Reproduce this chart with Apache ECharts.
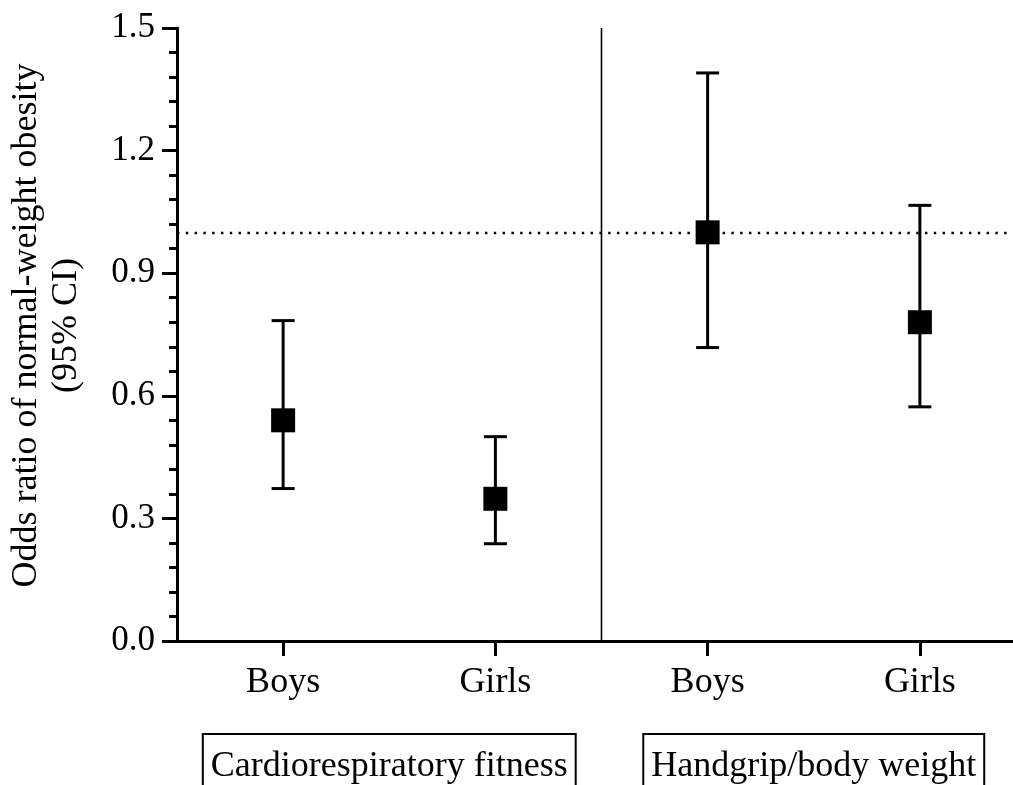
<!DOCTYPE html>
<html>
<head>
<meta charset="utf-8">
<script src="https://cdn.jsdelivr.net/npm/echarts@6/dist/echarts.min.js"></script>
<style>html,body{margin:0;padding:0;background:#fff;}#chart{width:1013px;height:785px;}</style>
</head>
<body>
<div id="chart"></div>
<script>
const categories = ['Boys', 'Girls', 'Boys', 'Girls'];
const groups = ['Cardiorespiratory fitness', 'Handgrip/body weight'];
const oddsRatio = [0.54, 0.348, 1.0, 0.78];
const ciLower = [0.373, 0.238, 0.718, 0.573];
const ciUpper = [0.784, 0.50, 1.39, 1.066];
const yTicks = [0, 0.3, 0.6, 0.9, 1.2, 1.5];
const refValue = 1.0;
const separatorAfter = [1]; // vertical divider after category index 1

const FONT = "'Liberation Serif', 'Times New Roman', serif";
const chart = echarts.init(document.getElementById('chart'));

const errData = categories.map((c, i) => [i, ciLower[i], ciUpper[i]]);
const ptData = categories.map((c, i) => [i, oddsRatio[i]]);
const sepData = separatorAfter.map(i => [i, 0]);

chart.setOption({
  animation: false,
  backgroundColor: '#fff',
  grid: { left: 177, top: 28, bottom: 144, right: -13, containLabel: false, outerBoundsMode: 'none' },
  xAxis: [{
    type: 'category',
    data: categories,
    boundaryGap: true,
    axisLine: { show: true, lineStyle: { color: '#000', width: 3 } },
    axisTick: { show: true, alignWithLabel: true, length: 15, lineStyle: { color: '#000', width: 3 } },
    axisLabel: { color: '#000', fontFamily: FONT, fontSize: 36, margin: 24, interval: 0 },
    splitLine: { show: false }
  }, {
    type: 'category',
    data: groups,
    position: 'bottom',
    offset: 0,
    axisLine: { show: false },
    axisTick: { show: false },
    splitLine: { show: false },
    axisLabel: {
      interval: 0,
      color: '#000', fontFamily: FONT, fontSize: 36, margin: 93,
      borderColor: '#000', borderWidth: 2, padding: [15, 8, 30, 8]
    }
  }],
  yAxis: {
    type: 'value',
    min: yTicks[0], max: yTicks[yTicks.length - 1], interval: 0.3,
    name: 'Odds ratio of normal-weight obesity\n(95% CI)',
    nameLocation: 'middle',
    nameGap: 90,
    nameRotate: 90,
    nameTextStyle: { color: '#000', fontFamily: FONT, fontSize: 36, lineHeight: 40, padding: [0, 0, 0, 18] },
    axisLine: { show: true, lineStyle: { color: '#000', width: 3 } },
    axisTick: { show: true, length: 15, lineStyle: { color: '#000', width: 3 } },
    minorTick: { show: true, splitNumber: 5, length: 8, lineStyle: { color: '#000', width: 3 } },
    axisLabel: { color: '#000', fontFamily: FONT, fontSize: 35, margin: 22, formatter: v => v.toFixed(1) },
    splitLine: { show: false }
  },
  series: [{
    type: 'custom',
    xAxisIndex: 0,
    data: sepData,
    z: 2,
    silent: true,
    renderItem: function (params, api) {
      const c = api.coord([api.value(0), api.value(1)]);
      const band = api.size([1, 0])[0];
      const x = c[0] + band / 2;
      const cs = params.coordSys;
      return {
        type: 'line',
        shape: { x1: x, y1: cs.y, x2: x, y2: cs.y + cs.height },
        style: { stroke: '#000', lineWidth: 1.6 }
      };
    }
  }, {
    type: 'custom',
    xAxisIndex: 0,
    data: errData,
    z: 3,
    renderItem: function (params, api) {
      const x = api.value(0);
      const lo = api.coord([x, api.value(1)]);
      const hi = api.coord([x, api.value(2)]);
      const hw = 11.5;
      const style = { stroke: '#000', lineWidth: 3, fill: null };
      return {
        type: 'group',
        children: [
          { type: 'line', shape: { x1: lo[0], y1: lo[1], x2: hi[0], y2: hi[1] }, style },
          { type: 'line', shape: { x1: lo[0] - hw, y1: lo[1], x2: lo[0] + hw, y2: lo[1] }, style },
          { type: 'line', shape: { x1: hi[0] - hw, y1: hi[1], x2: hi[0] + hw, y2: hi[1] }, style }
        ]
      };
    }
  }, {
    type: 'scatter',
    xAxisIndex: 0,
    data: ptData,
    symbol: 'rect',
    symbolSize: 24,
    itemStyle: { color: '#000', opacity: 1 },
    z: 4,
    markLine: {
      silent: true,
      symbol: ['none', 'none'],
      label: { show: false },
      lineStyle: { color: '#000', width: 2.4, type: [2.4, 6.4], opacity: 1 },
      data: [{ yAxis: refValue }]
    }
  }]
});
</script>
</body>
</html>
